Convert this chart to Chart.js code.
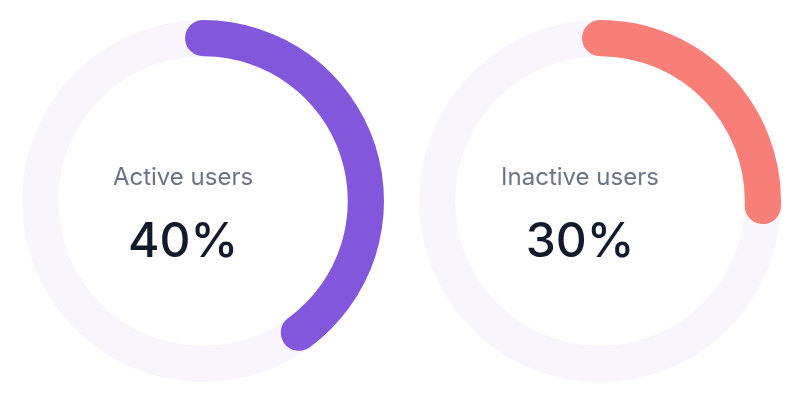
<!DOCTYPE html>
<html><head><meta charset="utf-8">
<script src="https://cdn.jsdelivr.net/npm/chart.js@4"></script>
<style>
body{margin:0;width:800px;height:403px;background:#fff;font-family:Inter,sans-serif;position:relative;overflow:hidden}
.box{position:absolute;top:20px;width:362px;height:362px}
.lbl{position:absolute;left:0;width:362px;text-align:center;pointer-events:none}
.t{top:142px;font-size:24px;color:#6b7385;margin-left:-20px}
.v{top:190px;font-size:48px;color:#131a2b;font-weight:500;margin-left:-20px}
</style></head><body>
<div class="box" style="left:22px"><canvas id="c0"></canvas><div class="lbl t" id="t0"></div><div class="lbl v" id="v0"></div></div>
<div class="box" style="left:419px"><canvas id="c1"></canvas><div class="lbl t" id="t1"></div><div class="lbl v" id="v1"></div></div>
<script>
const labels=["Active users","Inactive users"];
const values=[40,30];
// visible arc length (percent of circle, between cap centres)
const arcPercent=[40,25.5];
const colors=["#8257dc","#f87f77"];
const track="#f8f5fd";
const capPad=3.5;
const trackPlugin={id:"track",beforeDatasetsDraw(ch){const a=ch.getDatasetMeta(0).data[0];if(!a)return;const c=ch.ctx;c.save();c.beginPath();c.arc(a.x,a.y,a.outerRadius,0,Math.PI*2);c.arc(a.x,a.y,a.innerRadius,0,Math.PI*2,true);c.fillStyle=track;c.fill();c.restore();}};
labels.forEach((l,i)=>{
document.getElementById("t"+i).textContent=l;
document.getElementById("v"+i).textContent=values[i]+"%";
const a=arcPercent[i]+capPad;
new Chart(document.getElementById("c"+i),{type:"doughnut",
data:{labels:[l,"rest"],datasets:[{data:[a,100-a],backgroundColor:[colors[i],"rgba(0,0,0,0)"],borderWidth:0,borderRadius:[18,0]}]},
options:{responsive:true,maintainAspectRatio:false,animation:false,cutout:"80%",rotation:-capPad/2*3.6,layout:{padding:0},
plugins:{legend:{display:false},tooltip:{enabled:false}}},plugins:[trackPlugin]});
});
</script></body></html>
